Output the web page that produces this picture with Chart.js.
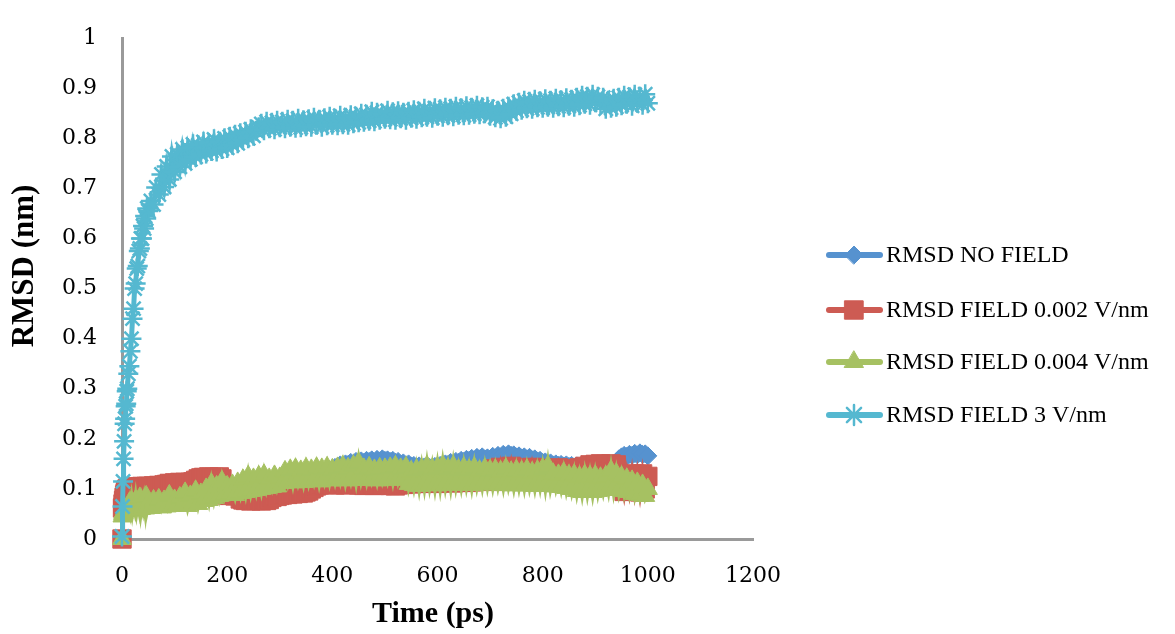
<!DOCTYPE html>
<html>
<head>
<meta charset="utf-8">
<script src="https://cdn.jsdelivr.net/npm/chart.js@4.4.1/dist/chart.umd.min.js"></script>
<style>
  html, body { margin: 0; padding: 0; background: #fff; }
  #wrap { width: 1175px; height: 634px; position: relative; }
</style>
</head>
<body>
<div id="wrap"><canvas id="rmsd"></canvas></div>
<script>
// time axis (ps), shared by all series
const TIME_PS = [0,1,2,3,4,5,6,7,8,9,10,
  12,14,16,18,20,22,24,26,28,30,32,34,36,38,40,42,44,46,48,50,
  55,60,65,70,75,80,85,90,95,100,105,110,115,120,125,130,135,140,145,150,
  155,160,165,170,175,180,185,190,195,200,205,210,215,220,225,230,235,240,245,250,
  255,260,265,270,275,280,285,290,295,300,305,310,315,320,325,330,335,340,345,350,
  355,360,365,370,375,380,385,390,395,400,405,410,415,420,425,430,435,440,445,450,
  455,460,465,470,475,480,485,490,495,500,505,510,515,520,525,530,535,540,545,550,
  555,560,565,570,575,580,585,590,595,600,605,610,615,620,625,630,635,640,645,650,
  655,660,665,670,675,680,685,690,695,700,705,710,715,720,725,730,735,740,745,750,
  755,760,765,770,775,780,785,790,795,800,805,810,815,820,825,830,835,840,845,850,
  855,860,865,870,875,880,885,890,895,900,905,910,915,920,925,930,935,940,945,950,
  955,960,965,970,975,980,985,990,995,1000];

const RMSD_NO_FIELD = [0,0.06,0.075,0.08,0.085,0.088,0.09,0.092,0.09,0.094,0.095,
  0.096,0.093,0.097,0.095,0.098,0.094,0.097,0.096,0.099,0.095,0.098,0.096,0.1,0.097,0.099,0.096,0.1,0.097,0.099,0.098,
  0.1,0.097,0.101,0.098,0.1,0.097,0.099,0.096,0.1,0.098,
  0.097,0.095,0.098,0.094,0.096,0.093,0.095,0.092,0.094,0.091,
  0.092,0.09,0.091,0.088,0.09,0.087,0.089,0.086,0.088,0.086,
  0.087,0.085,0.088,0.086,0.089,0.087,0.09,0.088,0.091,0.089,
  0.09,0.088,0.092,0.09,0.093,0.091,0.094,0.092,0.095,0.093,
  0.096,0.094,0.097,0.095,0.099,0.097,0.101,0.1,0.104,0.103,
  0.107,0.106,0.11,0.112,0.118,0.122,0.128,0.132,0.138,0.14,
  0.143,0.145,0.148,0.146,0.15,0.149,0.153,0.151,0.155,0.152,
  0.156,0.153,0.157,0.155,0.158,0.154,0.159,0.156,0.16,0.157,
  0.158,0.155,0.157,0.153,0.155,0.15,0.152,0.148,0.15,0.146,
  0.147,0.144,0.146,0.142,0.144,0.14,0.143,0.141,0.145,0.143,
  0.147,0.146,0.15,0.149,0.153,0.151,0.155,0.153,0.157,0.155,
  0.159,0.157,0.161,0.158,0.163,0.16,0.164,0.16,0.162,0.159,
  0.165,0.162,0.167,0.164,0.169,0.166,0.17,0.167,0.168,0.164,
  0.166,0.162,0.164,0.16,0.163,0.158,0.16,0.156,0.157,0.153,
  0.154,0.15,0.152,0.148,0.15,0.147,0.149,0.146,0.148,0.145,
  0.147,0.144,0.146,0.143,0.147,0.144,0.146,0.143,0.145,0.144,
  0.146,0.143,0.145,0.142,0.146,0.144,0.15,0.154,0.16,0.164,
  0.167,0.165,0.169,0.167,0.171,0.168,0.172,0.169,0.17,0.166];

const RMSD_FIELD_0002 = [0,0.062,0.07,0.077,0.083,0.088,0.092,0.095,0.097,0.099,0.1,
  0.101,0.1,0.102,0.101,0.103,0.102,0.103,0.101,0.104,0.103,0.102,0.104,0.103,0.105,0.103,0.104,0.103,0.105,0.104,0.105,
  0.104,0.106,0.105,0.107,0.106,0.108,0.109,0.111,0.11,0.112,
  0.111,0.113,0.112,0.113,0.112,0.113,0.114,0.117,0.12,0.122,
  0.123,0.122,0.124,0.123,0.123,0.122,0.124,0.12,0.098,0.088,
  0.087,0.089,0.086,0.088,0.08,0.078,0.077,0.079,0.076,0.078,
  0.077,0.079,0.076,0.078,0.077,0.079,0.083,0.086,0.085,0.087,
  0.088,0.09,0.089,0.091,0.09,0.092,0.091,0.093,0.092,0.094,
  0.096,0.1,0.103,0.106,0.108,0.11,0.109,0.111,0.11,0.109,
  0.108,0.11,0.109,0.111,0.108,0.11,0.109,0.111,0.11,0.108,
  0.109,0.107,0.109,0.108,0.11,0.107,0.109,0.108,0.107,0.109,
  0.108,0.107,0.109,0.106,0.108,0.11,0.109,0.111,0.112,0.11,
  0.111,0.113,0.112,0.111,0.113,0.112,0.114,0.112,0.113,0.111,
  0.112,0.114,0.113,0.115,0.113,0.112,0.114,0.113,0.115,0.114,
  0.113,0.115,0.114,0.116,0.118,0.122,0.125,0.128,0.124,0.13,
  0.115,0.14,0.118,0.143,0.116,0.138,0.12,0.145,0.117,0.14,
  0.118,0.142,0.12,0.138,0.116,0.143,0.119,0.139,0.117,0.141,
  0.12,0.14,0.118,0.137,0.12,0.142,0.118,0.136,0.121,0.14,
  0.12,0.138,0.125,0.142,0.13,0.145,0.135,0.148,0.132,0.149,
  0.14,0.15,0.138,0.149,0.136,0.15,0.134,0.148,0.13,0.125,
  0.095,0.128,0.098,0.13,0.096,0.127,0.094,0.13,0.1,0.125];

const RMSD_FIELD_0004 = [0,0.045,0.05,0.052,0.055,0.056,0.058,0.06,0.059,0.062,0.06,
  0.062,0.072,0.06,0.075,0.058,0.07,0.061,0.077,0.06,0.072,0.062,0.082,0.06,0.074,0.063,0.076,0.061,0.085,0.063,0.073,
  0.062,0.077,0.064,0.079,0.063,0.076,0.065,0.087,0.066,0.078,
  0.068,0.083,0.07,0.092,0.066,0.086,0.072,0.096,0.07,0.09,
  0.076,0.1,0.078,0.11,0.082,0.105,0.086,0.115,0.088,0.105,
  0.09,0.108,0.088,0.112,0.092,0.118,0.094,0.125,0.096,0.12,
  0.098,0.125,0.1,0.128,0.102,0.12,0.104,0.126,0.105,0.122,
  0.112,0.135,0.115,0.138,0.113,0.14,0.116,0.136,0.114,0.141,
  0.116,0.138,0.118,0.142,0.115,0.14,0.119,0.143,0.117,0.139,
  0.118,0.142,0.12,0.145,0.117,0.141,0.12,0.146,0.118,0.152,
  0.12,0.14,0.118,0.143,0.12,0.138,0.117,0.141,0.12,0.14,
  0.12,0.142,0.118,0.145,0.12,0.14,0.122,0.143,0.11,0.135,
  0.108,0.138,0.106,0.14,0.108,0.145,0.11,0.14,0.107,0.143,
  0.108,0.146,0.11,0.14,0.108,0.145,0.11,0.138,0.109,0.142,
  0.11,0.138,0.108,0.142,0.11,0.136,0.109,0.14,0.11,0.137,
  0.109,0.138,0.11,0.135,0.108,0.14,0.11,0.134,0.107,0.137,
  0.108,0.135,0.107,0.138,0.108,0.133,0.106,0.136,0.108,0.14,
  0.107,0.145,0.106,0.13,0.105,0.128,0.104,0.132,0.102,0.127,
  0.1,0.128,0.096,0.124,0.094,0.127,0.095,0.125,0.094,0.126,
  0.096,0.122,0.098,0.125,0.1,0.136,0.1,0.13,0.098,0.124,
  0.096,0.12,0.094,0.116,0.09,0.112,0.088,0.108,0.086,0.1];

const RMSD_FIELD_3 = [0.005,0.065,0.115,0.16,0.195,0.23,0.24,0.265,0.27,0.295,0.3,
  0.33,0.345,0.375,0.4,0.44,0.46,0.5,0.51,0.54,0.545,0.575,0.58,0.6,0.6,0.625,0.62,0.645,0.64,0.66,0.655,
  0.675,0.668,0.702,0.688,0.728,0.703,0.744,0.718,0.764,0.733,
  0.768,0.743,0.778,0.75,0.781,0.758,0.788,0.763,0.786,0.768,
  0.793,0.77,0.79,0.775,0.798,0.774,0.793,0.779,0.8,0.781,
  0.803,0.787,0.807,0.79,0.81,0.797,0.813,0.8,0.818,0.805,
  0.815,0.822,0.829,0.816,0.833,0.82,0.831,0.818,0.835,0.822,
  0.833,0.82,0.837,0.823,0.835,0.821,0.839,0.822,0.836,0.824,
  0.838,0.823,0.841,0.827,0.837,0.823,0.84,0.826,0.843,0.827,
  0.839,0.826,0.845,0.828,0.841,0.827,0.846,0.83,0.843,0.832,
  0.849,0.833,0.847,0.835,0.853,0.834,0.851,0.837,0.849,0.839,
  0.855,0.838,0.852,0.837,0.854,0.84,0.851,0.837,0.853,0.841,
  0.856,0.839,0.853,0.842,0.859,0.843,0.855,0.841,0.86,0.845,
  0.858,0.843,0.861,0.846,0.859,0.844,0.863,0.847,0.86,0.846,
  0.864,0.847,0.861,0.849,0.865,0.848,0.862,0.85,0.863,0.845,
  0.858,0.842,0.855,0.84,0.859,0.843,0.863,0.849,0.868,0.855,
  0.871,0.857,0.875,0.86,0.873,0.859,0.877,0.862,0.874,0.861,
  0.878,0.863,0.875,0.861,0.879,0.864,0.876,0.862,0.88,0.865,
  0.877,0.863,0.881,0.866,0.885,0.869,0.883,0.867,0.887,0.872,
  0.883,0.869,0.881,0.859,0.875,0.861,0.879,0.863,0.881,0.866,
  0.885,0.869,0.882,0.865,0.887,0.871,0.883,0.867,0.888,0.87];

const SERIES_LABELS = ['RMSD NO FIELD', 'RMSD FIELD 0.002 V/nm', 'RMSD FIELD 0.004 V/nm', 'RMSD FIELD 3 V/nm'];
const SERIES_VALUES = [RMSD_NO_FIELD, RMSD_FIELD_0002, RMSD_FIELD_0004, RMSD_FIELD_3];
const X_TITLE = 'Time (ps)';
const Y_TITLE = 'RMSD (nm)';

const COLORS = ['#5692cf', '#cd5b53', '#a6c162', '#55b8d0'];
const POINT_STYLES = ['rectRot', 'rect', 'triangle', 'star'];
const POINT_RADII = [9, 13, 11, 10];

const SERIF = '"Liberation Serif", "Times New Roman", serif';
const TICK_FONT = { family: '"DejaVu Serif", serif', size: 22 };

function toPoints(values) {
    return TIME_PS.map((t, i) => ({ x: t, y: values[i] }));
}

const datasets = SERIES_VALUES.map((vals, i) => ({
    label: SERIES_LABELS[i],
    data: toPoints(vals),
    borderColor: COLORS[i],
    backgroundColor: COLORS[i],
    pointBackgroundColor: COLORS[i],
    pointBorderColor: COLORS[i],
    borderWidth: 5,
    pointStyle: POINT_STYLES[i],
    pointRadius: POINT_RADII[i],
    pointBorderWidth: i === 3 ? 2.5 : 1,
    tension: 0,
    clip: false,
    order: 3 - i
}));

// legend with line + marker and the rotated axis titles
const decorPlugin = {
    id: 'decor',
    afterDraw(chart) {
        const ctx = chart.ctx;
        const legendY = [255, 310, 362, 415];
        ctx.save();
        datasets.forEach((ds, i) => {
            const y = legendY[i];
            ctx.strokeStyle = ds.borderColor;
            ctx.lineWidth = 6;
            ctx.lineCap = 'round';
            ctx.beginPath();
            ctx.moveTo(829, y);
            ctx.lineTo(880, y);
            ctx.stroke();
            ctx.fillStyle = ds.borderColor;
            ctx.lineWidth = ds.pointBorderWidth;
            Chart.helpers.drawPoint(ctx, {
                pointStyle: ds.pointStyle,
                radius: ds.pointRadius,
                borderWidth: ds.pointBorderWidth
            }, 854, y);
            ctx.fillStyle = '#000';
            ctx.font = '24px ' + SERIF;
            ctx.textAlign = 'left';
            ctx.textBaseline = 'middle';
            ctx.fillText(ds.label, 886, y + 1);
        });

        ctx.fillStyle = '#000';
        ctx.font = 'bold 30px ' + SERIF;
        ctx.textAlign = 'center';
        ctx.textBaseline = 'middle';
        ctx.fillText(X_TITLE, 433, 614);

        ctx.translate(25, 266);
        ctx.rotate(-Math.PI / 2);
        ctx.font = 'bold 31px ' + SERIF;
        ctx.fillText(Y_TITLE, 0, 0);
        ctx.restore();
    }
};

new Chart(document.getElementById('rmsd'), {
    type: 'line',
    data: { datasets: datasets },
    options: {
        responsive: true,
        maintainAspectRatio: false,
        animation: false,
        layout: { padding: { top: 26, right: 422, left: 0, bottom: 0 } },
        plugins: {
            legend: { display: false },
            tooltip: { enabled: false }
        },
        scales: {
            x: {
                type: 'linear',
                min: 0,
                max: 1200,
                afterFit: (s) => { s.height = 95; },
                grid: { display: false, drawTicks: false },
                border: { display: true, color: '#9a9a9a', width: 3 },
                ticks: {
                    stepSize: 200,
                    color: '#000',
                    font: TICK_FONT,
                    padding: 24,
                    callback: (v) => String(v)
                }
            },
            y: {
                min: 0,
                max: 1,
                afterFit: (s) => { s.width = 122; },
                grid: { display: false, drawTicks: false },
                border: { display: true, color: '#9a9a9a', width: 3 },
                ticks: {
                    stepSize: 0.1,
                    color: '#000',
                    font: TICK_FONT,
                    padding: 25,
                    callback: (v) => String(Number(v.toFixed(1)))
                }
            }
        }
    },
    plugins: [decorPlugin]
});
</script>
</body>
</html>
